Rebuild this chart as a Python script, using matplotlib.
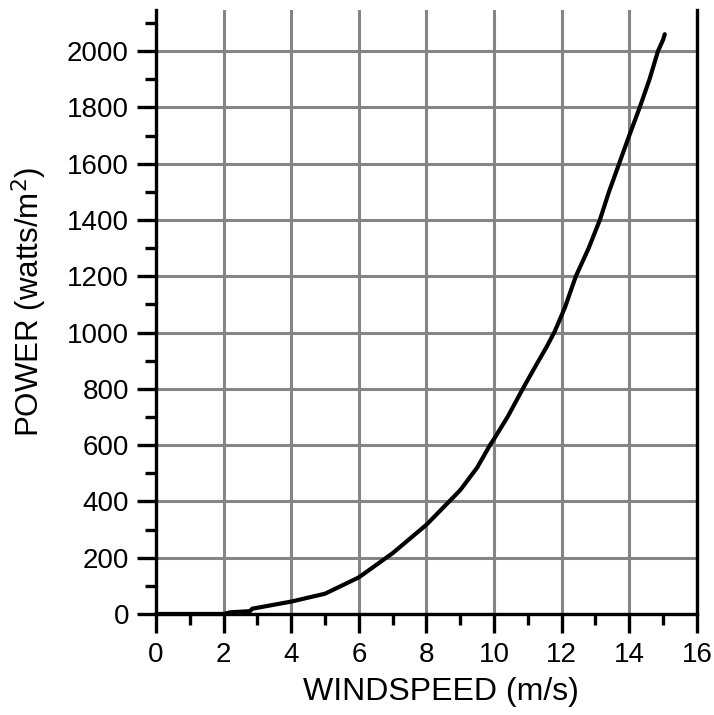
import matplotlib
matplotlib.use("Agg")
import matplotlib.pyplot as plt
from matplotlib.ticker import MultipleLocator

plt.rcParams['font.family'] = ['Liberation Sans', 'DejaVu Sans']

windspeed = [0, 1, 2, 2.2, 2.5, 2.78, 2.85, 3.0, 4.0, 5.0, 6.0, 7.0, 8.0, 9.0,
             9.5, 9.88, 10.0, 10.4, 10.85, 11.2, 11.56, 11.8, 12.1, 12.42, 12.8,
             13.13, 13.4, 13.7, 14.0, 14.31, 14.6, 14.85, 15.0, 15.05]
power = [0, 0, 0, 6, 8, 10, 19, 22, 44, 72, 130, 216, 317, 440,
         520, 600, 622, 700, 800, 875, 950, 1005, 1090, 1200, 1300,
         1400, 1500, 1600, 1700, 1800, 1900, 2000, 2040, 2060]

x_ticks = [0, 2, 4, 6, 8, 10, 12, 14, 16]
y_ticks = [0, 200, 400, 600, 800, 1000, 1200, 1400, 1600, 1800, 2000]

fig = plt.figure(figsize=(7.14, 7.15), dpi=100)
ax = fig.add_axes([0.2185, 0.1413, 0.7575, 0.8447])

ax.plot(windspeed, power, color='black', lw=3.0, solid_joinstyle='round',
        solid_capstyle='round', zorder=3, clip_on=False)

ax.set_xlim(0, 16)
ax.set_ylim(0, 2146)
ax.set_xticks(x_ticks)
ax.set_yticks(y_ticks)
ax.xaxis.set_minor_locator(MultipleLocator(1))
ax.yaxis.set_minor_locator(MultipleLocator(100))

ax.grid(True, which='major', color='#858585', lw=2.2, zorder=0)
ax.set_axisbelow(True)

for s in ['left', 'bottom', 'right']:
    ax.spines[s].set_linewidth(2.4)
    ax.spines[s].set_color('black')
ax.spines['top'].set_visible(False)

ax.tick_params(which='major', direction='out', length=13.5, width=2.4,
               labelsize=20, colors='black')
ax.tick_params(axis='x', which='major', pad=7)
ax.tick_params(axis='y', which='major', pad=6)
ax.tick_params(which='minor', direction='out', length=8, width=2.4)
ax.tick_params(axis='y', right=False)

ax.set_xlabel('WINDSPEED (m/s)', fontsize=23, labelpad=6)
ax.set_ylabel('POWER (watts/m$^2$)', fontsize=22.5, labelpad=13)
ax.xaxis.label.set_x(0.527)
ax.yaxis.label.set_y(0.517)

fig.savefig('out.png', dpi=100)
